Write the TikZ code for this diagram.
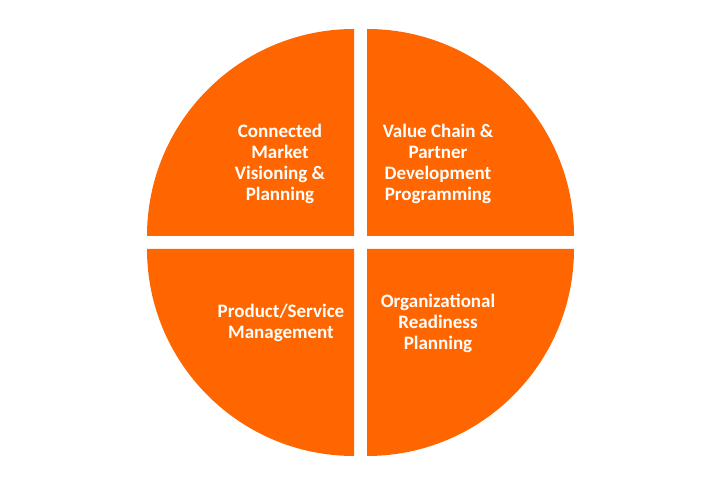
\documentclass[tikz,border=0pt]{standalone}
\usepackage{fontspec}
\setmainfont{Carlito}
\usetikzlibrary{positioning}
\definecolor{quadorange}{HTML}{FF6600}

\tikzset{
    quad/.style={fill=quadorange},
    quadlabel/.style={text=white, align=center, font=\fontsize{19}{21}\selectfont\bfseries, inner sep=0pt}
}

\begin{document}
\begin{tikzpicture}[x=1pt, y=1pt]
    \useasboundingbox (0,0) rectangle (720,485);

    % Quadrants
    \fill[quad] (354,249) -- ++(-207,0) arc[start angle=180, end angle=90, radius=207pt] -- cycle;
    \fill[quad] (367,249) -- ++(0,207) arc[start angle=90, end angle=0, radius=207pt] -- cycle;
    \fill[quad] (354,236) -- ++(0,-207) arc[start angle=270, end angle=180, radius=207pt] -- cycle;
    \fill[quad] (367,236) -- ++(207,0) arc[start angle=0, end angle=-90, radius=207pt] -- cycle;

    % Labels
    \node[quadlabel] (market) at (280,321) {Connected\\Market\\Visioning \&\\Planning};
    \node[quadlabel] (partner) at (438,321) {Value Chain \&\\Partner\\Development\\Programming};
    \node[quadlabel] (product) at (281,162) {Product/Service\\Management};
    \node[quadlabel] (readiness) at (438,162) {Organizational\\Readiness\\Planning};
\end{tikzpicture}
\end{document}
